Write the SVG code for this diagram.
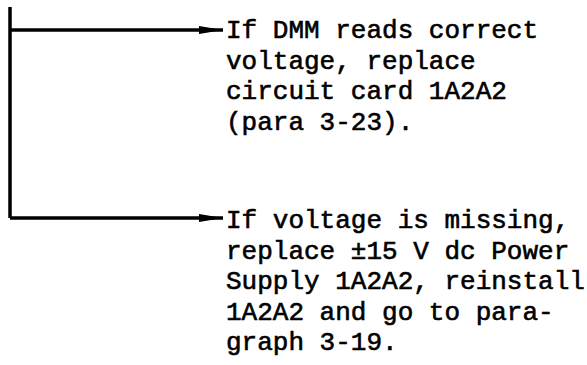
<svg xmlns="http://www.w3.org/2000/svg" width="587" height="365" viewBox="0 0 587 365">
<defs>
<style>
.t{font-family:"Liberation Mono","DejaVu Sans Mono",monospace;font-size:26px;fill:#000;stroke:#000;stroke-width:0.6}
.c{fill:none;stroke:#000;stroke-width:3.5}
</style>
<marker id="ah" viewBox="0 0 24 10" refX="24" refY="5" markerWidth="24" markerHeight="10" markerUnits="userSpaceOnUse" orient="auto">
<path d="M0,1 L24,5 L0,9 Z" fill="#000"/>
</marker>
</defs>
<rect width="587" height="365" fill="#fff"/>
<g id="connectors">
<path class="c" d="M10,7 V218"/>
<path class="c" d="M10,30 H223" marker-end="url(#ah)"/>
<path class="c" d="M10,218 H223" marker-end="url(#ah)"/>
</g>
<g id="node1">
<text class="t" x="226" y="38">If DMM reads correct</text>
<text class="t" x="226" y="68.5">voltage, replace</text>
<text class="t" x="226" y="99">circuit card 1A2A2</text>
<text class="t" x="226" y="129.5">(para 3-23).</text>
</g>
<g id="node2">
<text class="t" x="226" y="228">If voltage is missing,</text>
<text class="t" x="226" y="258.5">replace ±15 V dc Power</text>
<text class="t" x="226" y="289">Supply 1A2A2, reinstall</text>
<text class="t" x="226" y="319.5">1A2A2 and go to para-</text>
<text class="t" x="226" y="350">graph 3-19.</text>
</g>
</svg>
